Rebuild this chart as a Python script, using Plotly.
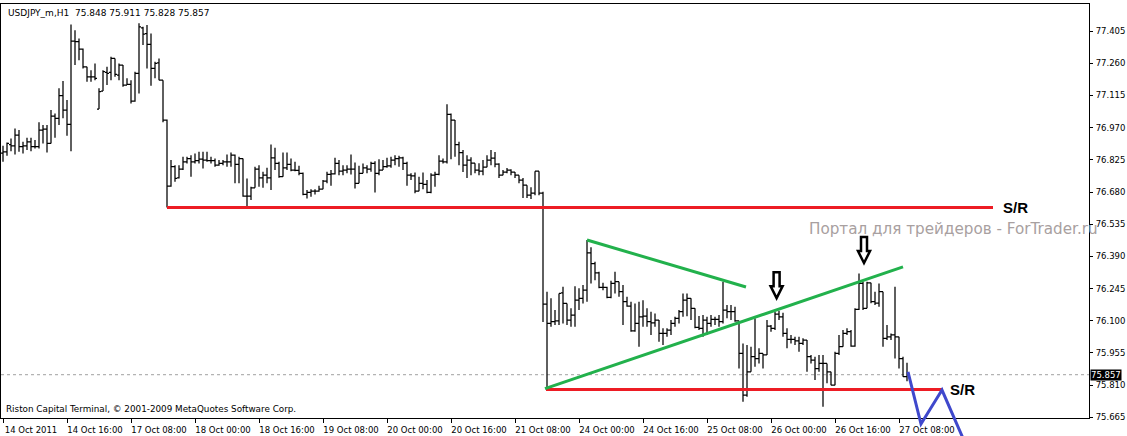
import plotly.graph_objects as go

# ---------------- data (USDJPY_m, H1) ----------------
open_ = [76.855, 76.861, 76.894, 76.888, 76.936, 76.884, 76.888, 76.906, 76.884, 76.884,
         76.959, 76.963, 76.899, 77.022, 77.012, 77.114, 77.049, 76.985, 77.360, 77.357,
         77.324, 77.244, 77.199, 77.199, 77.054, 77.135, 77.219, 77.219, 77.282, 77.207,
         77.252, 77.162, 77.165, 77.090, 77.214, 77.420, 77.394, 77.345, 77.237, 77.262,
         77.184, 77.004, 76.707, 76.794, 76.744, 76.783, 76.816, 76.831, 76.816, 76.821,
         76.828, 76.824, 76.821, 76.821, 76.801, 76.809, 76.816, 76.816, 76.846, 76.804,
         76.831, 76.662, 76.662, 76.699, 76.783, 76.744, 76.756, 76.744, 76.834, 76.809,
         76.749, 76.789, 76.804, 76.779, 76.777, 76.764, 76.669, 76.678, 76.684, 76.684,
         76.693, 76.729, 76.759, 76.762, 76.809, 76.774, 76.779, 76.783, 76.783, 76.719,
         76.764, 76.789, 76.783, 76.809, 76.764, 76.779, 76.794, 76.798, 76.824, 76.831,
         76.834, 76.809, 76.756, 76.753, 76.684, 76.719, 76.714, 76.678, 76.756, 76.759,
         76.819, 76.816, 77.030, 77.004, 76.894, 76.858, 76.801, 76.824, 76.810, 76.779,
         76.774, 76.792, 76.824, 76.833, 76.806, 76.756, 76.770, 76.779, 76.770, 76.756,
         76.734, 76.711, 76.666, 76.675, 76.774, 76.675, 76.175, 76.088, 76.096, 76.100,
         76.226, 76.178, 76.103, 76.126, 76.193, 76.201, 76.238, 76.406, 76.358, 76.316,
         76.250, 76.250, 76.205, 76.268, 76.276, 76.231, 76.186, 76.166, 76.055, 76.088,
         76.118, 76.121, 76.096, 76.091, 76.103, 76.043, 76.043, 76.058, 76.088, 76.111,
         76.141, 76.193, 76.201, 76.156, 76.070, 76.066, 76.103, 76.088, 76.106, 76.106,
         76.096, 76.148, 76.141, 76.141, 76.100, 75.953, 75.765, 75.870, 75.938, 75.930,
         75.953, 75.946, 76.076, 76.066, 76.130, 76.118, 76.043, 76.016, 76.016, 76.010,
         75.998, 76.013, 75.938, 75.923, 75.885, 75.908, 75.908, 75.870, 75.810, 75.953,
         75.983, 76.043, 76.051, 75.986, 76.151, 76.268, 76.156, 76.271, 76.186, 76.179,
         76.231, 76.021, 76.028, 76.036, 76.028, 75.930, 75.848]
high = [76.888, 76.903, 76.921, 76.966, 76.959, 76.906, 76.924, 76.924, 76.914, 76.994,
        76.982, 76.982, 77.049, 77.034, 77.147, 77.180, 77.094, 77.435, 77.409, 77.372,
        77.327, 77.244, 77.229, 77.259, 77.147, 77.229, 77.244, 77.289, 77.282, 77.259,
        77.252, 77.192, 77.184, 77.222, 77.440, 77.424, 77.432, 77.394, 77.267, 77.282,
        77.184, 77.007, 76.824, 76.801, 76.801, 76.839, 76.839, 76.846, 76.854, 76.861,
        76.861, 76.861, 76.839, 76.831, 76.824, 76.824, 76.849, 76.858, 76.849, 76.839,
        76.831, 76.741, 76.704, 76.794, 76.801, 76.771, 76.789, 76.894, 76.879, 76.816,
        76.858, 76.858, 76.831, 76.816, 76.798, 76.768, 76.689, 76.693, 76.693, 76.708,
        76.734, 76.771, 76.779, 76.834, 76.824, 76.801, 76.801, 76.849, 76.813, 76.798,
        76.809, 76.801, 76.816, 76.819, 76.828, 76.824, 76.834, 76.839, 76.846, 76.843,
        76.839, 76.816, 76.764, 76.768, 76.749, 76.768, 76.734, 76.764, 76.771, 76.846,
        76.831, 77.075, 77.034, 77.004, 76.906, 76.869, 76.846, 76.837, 76.810, 76.810,
        76.824, 76.846, 76.869, 76.860, 76.810, 76.779, 76.788, 76.783, 76.770, 76.756,
        76.743, 76.711, 76.702, 76.774, 76.774, 76.681, 76.231, 76.201, 76.148, 76.223,
        76.253, 76.178, 76.156, 76.256, 76.246, 76.261, 76.464, 76.431, 76.366, 76.321,
        76.271, 76.253, 76.280, 76.321, 76.276, 76.261, 76.208, 76.186, 76.178, 76.186,
        76.193, 76.156, 76.141, 76.133, 76.103, 76.066, 76.066, 76.103, 76.118, 76.148,
        76.223, 76.223, 76.201, 76.156, 76.121, 76.126, 76.118, 76.126, 76.118, 76.126,
        76.276, 76.171, 76.171, 76.163, 76.100, 75.998, 75.991, 75.983, 76.111, 75.976,
        75.953, 76.103, 76.081, 76.141, 76.145, 76.136, 76.066, 76.036, 76.028, 76.028,
        76.021, 76.013, 75.946, 75.938, 75.946, 75.946, 75.908, 75.870, 75.961, 76.036,
        76.058, 76.066, 76.058, 76.156, 76.313, 76.276, 76.276, 76.271, 76.231, 76.268,
        76.231, 76.081, 76.043, 76.253, 76.028, 75.938, 75.911]
low = [76.816, 76.843, 76.864, 76.849, 76.861, 76.854, 76.869, 76.864, 76.876, 76.876,
       76.899, 76.858, 76.899, 76.924, 76.982, 77.012, 76.933, 76.864, 77.252, 77.274,
       77.237, 77.177, 77.177, 77.184, 77.054, 77.135, 77.162, 77.184, 77.199, 77.184,
       77.154, 77.162, 77.079, 77.087, 77.124, 77.342, 77.237, 77.159, 77.192, 77.184,
       76.994, 76.610, 76.704, 76.726, 76.741, 76.779, 76.809, 76.749, 76.809, 76.809,
       76.786, 76.816, 76.809, 76.794, 76.798, 76.801, 76.794, 76.794, 76.719, 76.719,
       76.659, 76.612, 76.644, 76.699, 76.704, 76.699, 76.719, 76.689, 76.779, 76.744,
       76.749, 76.779, 76.774, 76.774, 76.756, 76.666, 76.651, 76.659, 76.669, 76.681,
       76.693, 76.719, 76.708, 76.759, 76.756, 76.756, 76.764, 76.759, 76.696, 76.719,
       76.764, 76.764, 76.771, 76.678, 76.756, 76.779, 76.789, 76.789, 76.801, 76.794,
       76.779, 76.708, 76.734, 76.674, 76.684, 76.693, 76.674, 76.674, 76.704, 76.756,
       76.809, 76.809, 76.828, 76.839, 76.801, 76.770, 76.743, 76.756, 76.765, 76.756,
       76.756, 76.792, 76.801, 76.792, 76.743, 76.756, 76.765, 76.756, 76.743, 76.720,
       76.653, 76.653, 76.648, 76.666, 76.666, 76.095, 75.790, 76.073, 76.081, 76.081,
       76.088, 76.081, 76.073, 76.073, 76.148, 76.178, 76.186, 76.268, 76.283, 76.246,
       76.238, 76.201, 76.201, 76.223, 76.208, 76.081, 76.163, 76.051, 76.051, 75.983,
       76.073, 76.073, 76.036, 76.073, 76.006, 75.991, 76.028, 76.036, 76.073, 76.088,
       76.118, 76.120, 76.103, 76.066, 76.058, 76.028, 76.036, 76.073, 76.081, 76.073,
       76.088, 76.111, 76.103, 76.096, 75.885, 75.735, 75.758, 75.870, 75.893, 75.908,
       75.885, 75.946, 76.051, 76.058, 76.103, 76.028, 75.976, 75.998, 75.991, 75.961,
       75.991, 75.870, 75.908, 75.833, 75.870, 75.713, 75.818, 75.810, 75.810, 75.946,
       75.983, 76.036, 75.983, 75.983, 76.148, 76.148, 76.156, 76.179, 76.171, 76.163,
       75.983, 76.013, 76.013, 75.930, 75.885, 75.848, 75.828]
close = [76.861, 76.899, 76.888, 76.936, 76.884, 76.888, 76.906, 76.884, 76.884, 76.959,
         76.963, 76.899, 77.022, 77.012, 77.114, 77.049, 76.985, 77.360, 77.357, 77.324,
         77.244, 77.199, 77.199, 77.192, 77.132, 77.222, 77.214, 77.282, 77.210, 77.252,
         77.162, 77.165, 77.090, 77.214, 77.424, 77.391, 77.345, 77.237, 77.259, 77.184,
         77.004, 76.707, 76.794, 76.741, 76.783, 76.816, 76.831, 76.816, 76.821, 76.828,
         76.824, 76.821, 76.821, 76.801, 76.809, 76.816, 76.816, 76.846, 76.804, 76.831,
         76.662, 76.662, 76.699, 76.783, 76.744, 76.756, 76.744, 76.834, 76.809, 76.749,
         76.789, 76.804, 76.779, 76.777, 76.764, 76.669, 76.678, 76.684, 76.684, 76.693,
         76.729, 76.759, 76.762, 76.809, 76.774, 76.779, 76.783, 76.783, 76.719, 76.764,
         76.789, 76.783, 76.809, 76.764, 76.779, 76.794, 76.798, 76.824, 76.831, 76.834,
         76.809, 76.756, 76.753, 76.684, 76.719, 76.714, 76.678, 76.756, 76.759, 76.819,
         76.816, 77.030, 77.004, 76.894, 76.858, 76.801, 76.824, 76.810, 76.779, 76.774,
         76.792, 76.824, 76.833, 76.806, 76.756, 76.770, 76.779, 76.770, 76.756, 76.734,
         76.711, 76.666, 76.675, 76.774, 76.675, 76.175, 76.088, 76.096, 76.100, 76.223,
         76.178, 76.103, 76.126, 76.193, 76.201, 76.238, 76.406, 76.358, 76.316, 76.250,
         76.250, 76.205, 76.268, 76.276, 76.231, 76.186, 76.166, 76.055, 76.088, 76.118,
         76.121, 76.096, 76.091, 76.103, 76.043, 76.043, 76.058, 76.088, 76.111, 76.141,
         76.193, 76.201, 76.156, 76.070, 76.066, 76.103, 76.088, 76.106, 76.106, 76.096,
         76.148, 76.141, 76.141, 76.100, 75.953, 75.765, 75.870, 75.938, 75.930, 75.953,
         75.946, 76.076, 76.066, 76.130, 76.118, 76.043, 76.016, 76.016, 76.010, 75.998,
         76.013, 75.938, 75.923, 75.885, 75.908, 75.908, 75.870, 75.810, 75.953, 75.983,
         76.043, 76.051, 75.986, 76.151, 76.268, 76.156, 76.271, 76.186, 76.179, 76.231,
         76.021, 76.028, 76.036, 76.028, 75.930, 75.848, 75.857]
bars = list(range(len(open_)))

tick_bars = [0, 16, 32, 48, 64, 80, 96, 112, 128, 144, 160, 176, 192, 208, 224]
tick_labels = ["14 Oct 2011", "14 Oct 16:00", "17 Oct 08:00", "18 Oct 00:00", "18 Oct 16:00",
               "19 Oct 08:00", "20 Oct 00:00", "20 Oct 16:00", "21 Oct 08:00", "24 Oct 00:00",
               "24 Oct 16:00", "25 Oct 08:00", "26 Oct 00:00", "26 Oct 16:00", "27 Oct 08:00"]
price_ticks = [75.665, 75.810, 75.955, 76.100, 76.245, 76.390, 76.535, 76.680,
               76.825, 76.970, 77.115, 77.260, 77.405]
last_price = 75.857
header = "USDJPY_m,H1  75.848 75.911 75.828 75.857"

# hand-drawn analysis marks (bar index, price)
sr_level = [76.610, 75.790]
sr_from_bar = [41, 135.75]
sr_to_bar = [247.5, 235.0]
sr_label_bar = [249.5, 236.3]
trend_from_bar = [146, 135.5]
trend_from_price = [76.464, 75.794]
trend_to_bar = [185.75, 225.0]
trend_to_price = [76.252, 76.343]
zigzag_bar = [226.25, 229.5, 234.75, 240.5]
zigzag_price = [75.870, 75.635, 75.788, 75.55]
arrow_bar = [193.4, 215.25]
arrow_price = [76.202, 76.360]
watermark_bar = 201.0
watermark_price = 76.513

# ---------------- figure ----------------
X_RANGE = [-0.5, 271.5]
Y_RANGE = [75.662, 77.527]
FONT = "DejaVu Sans"
RED, GREEN, BLUE = "#ED1C24", "#22B14C", "#3F48CC"

fig = go.Figure()
fig.add_trace(go.Ohlc(
    x=bars, open=open_, high=high, low=low, close=close,
    increasing=dict(line=dict(color="black", width=1.25)),
    decreasing=dict(line=dict(color="black", width=1.25)),
    tickwidth=0.5, hoverinfo="skip", showlegend=False,
))

shapes = []
# current price dotted line
shapes.append(dict(type="line", xref="paper", x0=0, x1=1, yref="y", y0=last_price, y1=last_price,
                   line=dict(color="#a0a0a0", width=1, dash="dot"), layer="below"))
# S/R lines
for lv, a, b in zip(sr_level, sr_from_bar, sr_to_bar):
    shapes.append(dict(type="line", xref="x", yref="y", x0=a, x1=b, y0=lv, y1=lv,
                       line=dict(color=RED, width=3)))
# trend lines
for xa, ya, xb, yb in zip(trend_from_bar, trend_from_price, trend_to_bar, trend_to_price):
    shapes.append(dict(type="line", xref="x", yref="y", x0=xa, y0=ya, x1=xb, y1=yb,
                       line=dict(color=GREEN, width=3)))
# zigzag projection (extends below plot -> paper coords)
def px(v):
    return (v - X_RANGE[0]) / (X_RANGE[1] - X_RANGE[0])
def py(v):
    return (v - Y_RANGE[0]) / (Y_RANGE[1] - Y_RANGE[0])
path = "M " + " L ".join(f"{px(b):.5f},{py(p):.5f}" for b, p in zip(zigzag_bar, zigzag_price))
shapes.append(dict(type="path", xref="paper", yref="paper", path=path,
                   line=dict(color=BLUE, width=3)))
# hollow down arrows
arrow_path = "M 0 0 L -6 12 L -3 12 L -3 26 L 3 26 L 3 12 L 6 12 Z"
for b, p in zip(arrow_bar, arrow_price):
    shapes.append(dict(type="path", xref="x", yref="y", xsizemode="pixel", ysizemode="pixel",
                       xanchor=b, yanchor=p, path=arrow_path, fillcolor="white",
                       line=dict(color="black", width=2.5)))

annotations = []
for b, lv in zip(sr_label_bar, sr_level):
    annotations.append(dict(x=b, y=lv, xref="x", yref="y", text="<b>S/R</b>", showarrow=False,
                            xanchor="left", yanchor="middle",
                            font=dict(family="Liberation Sans", size=15, color="black")))
annotations.append(dict(x=watermark_bar, y=watermark_price, xref="x", yref="y",
                        text="Портал для трейдеров - ForTrader.ru", showarrow=False,
                        xanchor="left", yanchor="middle",
                        font=dict(family=FONT, size=15.2, color="#a8a0a0")))
annotations.append(dict(x=0, y=1, xref="paper", yref="paper", text=header, showarrow=False,
                        xanchor="left", yanchor="top", xshift=5, yshift=-2,
                        font=dict(family=FONT, size=9, color="black")))
annotations.append(dict(x=0, y=0, xref="paper", yref="paper",
                        text="Riston Capital Terminal, © 2001-2009 MetaQuotes Software Corp.",
                        showarrow=False, xanchor="left", yanchor="bottom", xshift=3, yshift=2,
                        font=dict(family=FONT, size=8.8, color="black")))
annotations.append(dict(x=1, y=last_price, xref="paper", yref="y", text=f"{last_price:.3f}",
                        showarrow=False, xanchor="left", yanchor="middle", xshift=1,
                        bgcolor="black", borderpad=0,
                        font=dict(family=FONT, size=8.5, color="white")))

fig.update_layout(
    width=1127, height=436, autosize=False,
    margin=dict(l=1, r=38, t=4, b=18),
    paper_bgcolor="white", plot_bgcolor="white",
    shapes=shapes, annotations=annotations, showlegend=False,
    font=dict(family=FONT, size=8.5, color="black"),
    xaxis=dict(range=X_RANGE, rangeslider=dict(visible=False), showgrid=False, zeroline=False,
               showline=True, mirror=True, linecolor="black", linewidth=1,
               tickmode="array", tickvals=tick_bars, ticktext=tick_labels,
               ticks="outside", ticklen=4, tickcolor="black", ticklabelshift=28,
               ticklabelstandoff=0, tickfont=dict(family=FONT, size=8.5, color="black")),
    yaxis=dict(range=Y_RANGE, side="right", showgrid=False, zeroline=False,
               showline=True, mirror=True, linecolor="black", linewidth=1,
               tickmode="array", tickvals=price_ticks, tickformat=".3f",
               ticks="outside", ticklen=3, tickcolor="black", ticklabelstandoff=1,
               tickfont=dict(family=FONT, size=8.5, color="black")),
)

fig.write_html("out.html", config={"displayModeBar": False},
               post_script="document.body.style.margin='0';")
